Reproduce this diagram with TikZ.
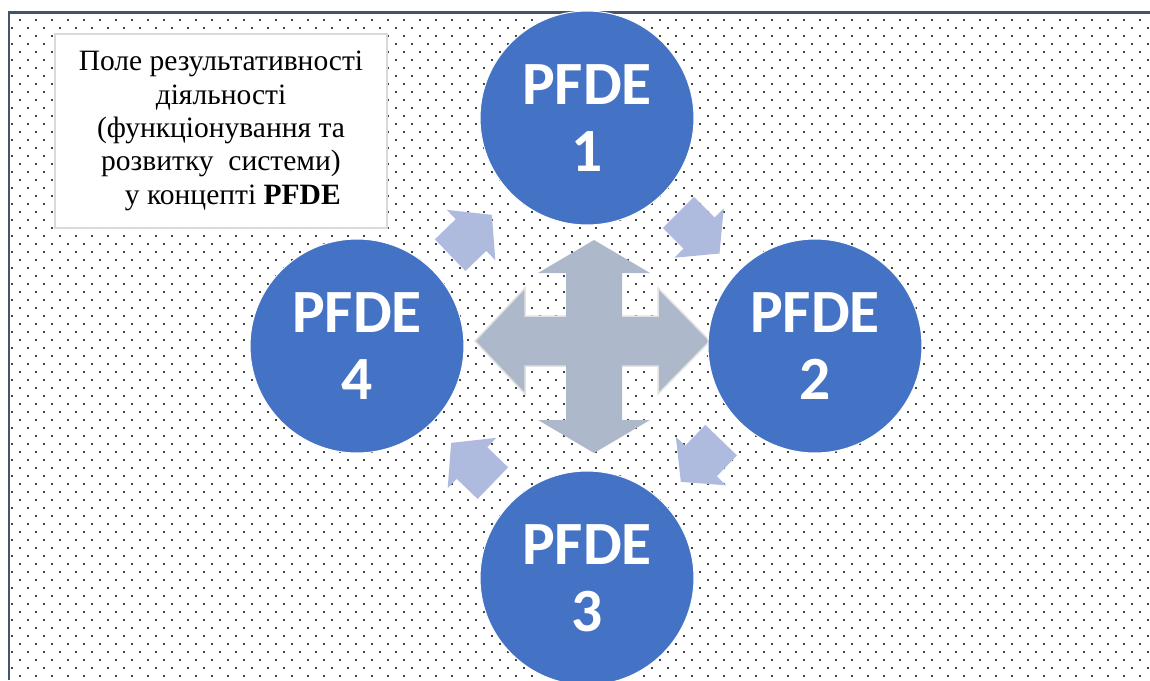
\documentclass[tikz,border=0pt]{standalone}
\usepackage{fontspec}
\setmainfont{Liberation Serif}
\newfontfamily\pfdefont{Carlito}
\usetikzlibrary{patterns.meta}

\definecolor{circblue}{HTML}{4472C4}
\definecolor{crossgray}{HTML}{ADB9CA}
\definecolor{crossline}{HTML}{E2E2E2}
\definecolor{cycleblue}{RGB}{175,187,222}
\definecolor{framecol}{HTML}{44546A}
\definecolor{boxline}{HTML}{D9D9D9}

\tikzdeclarepattern{
  name=paperdots,
  type=colored,
  bottom left={(0cm,0cm)},
  top right={(0.32cm,0.32cm)},
  tile size={(0.32cm,0.32cm)},
  code={
    \fill[black] (0.08cm,0.08cm) circle (0.024cm);
    \fill[black] (0.24cm,0.24cm) circle (0.024cm);
  }
}

\begin{document}
\begin{tikzpicture}[x=0.02cm, y=-0.02cm,
        frame/.style = {draw=framecol, line width=0.06cm},
        textbox/.style = {draw=boxline, line width=0.04cm, fill=white, minimum width=6.64cm, minimum height=3.88cm, align=center, font={\fontsize{16.8}{19}\selectfont}},
        pfde/.style = {circle, fill=circblue, draw=white, line width=0.02cm, minimum size=4.28cm, inner sep=0pt, text=white, align=center, font={\pfdefont\bfseries\fontsize{35}{38}\selectfont}},
        cyclearrow/.style = {fill=cycleblue},
        cross/.style = {fill=crossgray},]
        \useasboundingbox (0,0) rectangle (1150,680);
        \fill[pattern=paperdots] (10,13) rectangle (1150,680);
        \draw[frame] (9,680) -- (9,12) -- (1150,12);

        \node[textbox] (field) at (221,131) {Поле результативності\\діяльності\\(функціонування та\\розвитку\ \ системи)\\\hspace{0.8em}у концепті \textbf{PFDE}};

        % arrows between the circles
        \foreach \cx/\cy/\ang in {471/235/44, 699/233/-45, 701/461/-134, 472/463/136}
            \fill[cyclearrow, shift={(\cx,\cy)}, rotate=\ang] (-29,-22) -- (0,-22) -- (0,-35) -- (29,0) -- (0,35) -- (0,22) -- (-29,22) -- cycle;

        % four-way arrow
        \filldraw[cross, draw=crossline, line width=0.03cm] (475,341) -- (525,288) -- (525,316) -- (658,316) -- (658,288) -- (710,341) -- (658,394) -- (658,366) -- (525,366) -- (525,394) -- cycle;
        \fill[cross] (594,240) -- (650,273) -- (622,273) -- (622,420) -- (650,420) -- (594,453) -- (538,420) -- (566,420) -- (566,273) -- (538,273) -- cycle;

        \node[pfde] (p1) at (587,118) {PFDE\\1};
        \node[pfde] (p2) at (815,346) {PFDE\\2};
        \node[pfde] (p3) at (587,578) {PFDE\\3};
        \node[pfde] (p4) at (357,346) {PFDE\\4};
    \end{tikzpicture}
\end{document}
